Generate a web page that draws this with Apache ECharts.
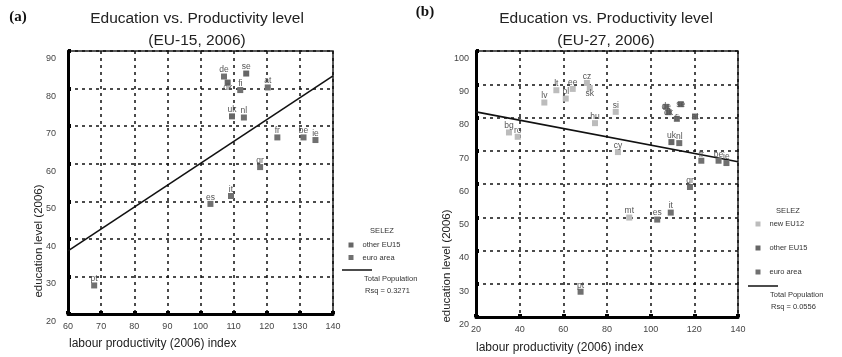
<!DOCTYPE html>
<html>
<head>
<meta charset="utf-8">
<script src="https://cdn.jsdelivr.net/npm/echarts@6/dist/echarts.min.js"></script>
<style>
  html, body { margin: 0; padding: 0; background: #fff; }
  #chart { width: 842px; height: 357px; }
</style>
</head>
<body>
<div id="chart"></div>
<script>
// EU-15 countries outside the euro area
const otherNames = ['uk', 'se', 'dk']
const otherProd = [109.5, 113.8, 108.2]
const otherEdu = [72.6, 84.0, 81.6]

// euro area countries
const euroNames = ['de', 'fi', 'at', 'nl', 'fr', 'be', 'ie', 'gr', 'it', 'es', 'pt']
const euroProd = [107.1, 112.0, 120.3, 113.1, 123.2, 131.1, 134.7, 118.0, 109.2, 103.0, 67.9]
const euroEdu = [83.2, 79.6, 80.3, 72.3, 67.0, 67.0, 66.3, 59.1, 51.4, 49.3, 27.6]

// new member states (EU12)
const newNames = ['bg', 'ro', 'lv', 'lt', 'pl', 'ee', 'cz', 'sk', 'si', 'hu', 'cy', 'mt']
const newProd = [35.1, 39.1, 51.3, 56.8, 61.1, 64.3, 70.8, 72.1, 84.0, 74.5, 85.0, 90.2]
const newEdu = [75.5, 74.2, 84.5, 88.2, 85.7, 88.6, 90.4, 88.9, 81.7, 78.3, 69.6, 49.9]

// regression lines (endpoints)
const fitA = [[60, 36.8], [140, 83.4]]
const fitB = [[20, 81.7], [140, 66.7]]
const rsqA = '0.3271'
const rsqB = '0.0556'

// axis ranges / ticks
const xTicksA = { min: 60, max: 140, interval: 10 }
const yTicksA = { min: 20, max: 90, interval: 10 }
const xTicksB = { min: 20, max: 140, interval: 20 }
const yTicksB = { min: 20, max: 100, interval: 10 }

// label placement per panel (style only)
const labelPosA = { dk: 'bottom' }
const labelPosB = { sk: 'bottom', de: 'inside', dk: 'inside', se: 'inside', fi: 'inside', at: 'inside' }

const FONT = '"Liberation Sans", Arial, sans-serif'
const COL_OTHER = '#666666'
const COL_EURO = '#707070'
const COL_NEW = '#bcbcbc'

function points(names, xs, ys, posMap) {
  return names.map((n, i) => {
    const item = { name: n, value: [xs[i], ys[i]] }
    if (posMap[n]) item.label = { position: posMap[n], distance: posMap[n] === 'bottom' ? -2 : 0 }
    return item
  })
}

function scatter(name, color, data, idx) {
  return {
    name: name,
    type: 'scatter',
    xAxisIndex: idx,
    yAxisIndex: idx,
    symbol: 'rect',
    symbolSize: 6,
    itemStyle: { color: color, opacity: 1 },
    label: {
      show: true,
      formatter: '{b}',
      position: 'top',
      distance: -1,
      fontSize: 8.5,
      fontFamily: FONT,
      color: '#555'
    },
    data: data,
    z: 3
  }
}

function fitLine(data, idx) {
  return {
    name: 'Total Population',
    type: 'line',
    xAxisIndex: idx,
    yAxisIndex: idx,
    data: data,
    symbol: 'none',
    lineStyle: { color: '#111', width: 1.6 },
    silent: true,
    z: 2
  }
}

function xAxis(idx, t) {
  return {
    type: 'value',
    gridIndex: idx,
    min: t.min, max: t.max, interval: t.interval,
    axisLine: { show: true, onZero: false, lineStyle: { color: '#000', width: 3 } },
    axisTick: { show: true, inside: true, length: 3, lineStyle: { color: '#000', width: 4 } },
    axisLabel: { fontSize: 9, fontFamily: FONT, color: '#444', margin: 8 },
    splitLine: { show: true, lineStyle: { color: '#111', width: 1.5, type: [3, 4] } }
  }
}

function yAxis(idx, t, margin) {
  return {
    type: 'value',
    gridIndex: idx,
    min: t.min, max: t.max, interval: t.interval,
    axisLine: { show: true, onZero: false, lineStyle: { color: '#000', width: 3 } },
    axisTick: { show: true, inside: true, length: 3, lineStyle: { color: '#000', width: 4 } },
    axisLabel: { fontSize: 9, fontFamily: FONT, color: '#444', margin: margin, verticalAlign: 'top', padding: [3, 0, 0, 0] },
    splitLine: { show: true, lineStyle: { color: '#111', width: 1.5, type: [3, 4] } }
  }
}

function legendBlock(x0, lineY, rsq) {
  return [
    { type: 'line', shape: { x1: x0, y1: lineY, x2: x0 + 30, y2: lineY }, style: { stroke: '#111', lineWidth: 1.5 } },
    { type: 'text', x: x0 + 22, y: lineY + 9, style: { text: 'Total Population', font: '7.5px ' + FONT, fill: '#333', textVerticalAlign: 'middle' } },
    { type: 'text', x: x0 + 23, y: lineY + 21, style: { text: 'Rsq = ' + rsq, font: '7.5px ' + FONT, fill: '#333', textVerticalAlign: 'middle' } }
  ]
}

const chart = echarts.init(document.getElementById('chart'))

const titleStyle = { fontSize: 15.5, fontWeight: 'normal', fontFamily: FONT, color: '#222', lineHeight: 22 }

const option = {
  animation: false,
  backgroundColor: '#fff',
  title: [
    { text: 'Education vs. Productivity level\n(EU-15, 2006)', left: 197, top: 8, textAlign: 'center', padding: 0, textStyle: titleStyle },
    { text: 'Education vs. Productivity level\n(EU-27, 2006)', left: 606, top: 8, textAlign: 'center', padding: 0, textStyle: titleStyle }
  ],
  grid: [
    { left: 68, top: 51, width: 265, height: 263, show: true, borderColor: '#222', borderWidth: 1.5, backgroundColor: 'transparent' },
    { left: 476, top: 51, width: 262, height: 266, show: true, borderColor: '#222', borderWidth: 1.5, backgroundColor: 'transparent' }
  ],
  xAxis: [xAxis(0, xTicksA), xAxis(1, xTicksB)],
  yAxis: [yAxis(0, yTicksA, 12), yAxis(1, yTicksB, 7)],
  legend: [
    {
      data: ['other EU15', 'euro area'],
      orient: 'vertical', left: 348.5, top: 240, padding: 0,
      itemWidth: 5, itemHeight: 5, itemGap: 2.5, icon: 'rect',
      selectedMode: false,
      textStyle: { fontSize: 7.5, fontFamily: FONT, color: '#333', lineHeight: 10, padding: [0, 0, 0, 4] }
    },
    {
      data: ['new EU12', 'other EU15', 'euro area'],
      orient: 'vertical', left: 755.5, top: 219, padding: 0,
      itemWidth: 5, itemHeight: 5, itemGap: 14, icon: 'rect',
      selectedMode: false,
      textStyle: { fontSize: 7.5, fontFamily: FONT, color: '#333', lineHeight: 10, padding: [0, 0, 0, 4] }
    }
  ],
  graphic: [
    { type: 'text', x: 18, y: 17, style: { text: '(a)', font: 'bold 15px "Liberation Serif", serif', fill: '#111', textAlign: 'center', textVerticalAlign: 'middle' } },
    { type: 'text', x: 425, y: 12, style: { text: '(b)', font: 'bold 15px "Liberation Serif", serif', fill: '#111', textAlign: 'center', textVerticalAlign: 'middle' } },
    { type: 'text', x: 69, y: 344, style: { text: 'labour productivity (2006) index', font: '12px ' + FONT, fill: '#222', textVerticalAlign: 'middle' } },
    { type: 'text', x: 476, y: 348, style: { text: 'labour productivity (2006) index', font: '12px ' + FONT, fill: '#222', textVerticalAlign: 'middle' } },
    { type: 'text', x: 39, y: 241, rotation: Math.PI / 2, style: { text: 'education level (2006)', font: '11.5px ' + FONT, fill: '#222', textAlign: 'center', textVerticalAlign: 'middle' } },
    { type: 'text', x: 447, y: 266, rotation: Math.PI / 2, style: { text: 'education level (2006)', font: '11.5px ' + FONT, fill: '#222', textAlign: 'center', textVerticalAlign: 'middle' } },
    { type: 'text', x: 382, y: 231, style: { text: 'SELEZ', font: '7.5px ' + FONT, fill: '#333', textAlign: 'center', textVerticalAlign: 'middle' } },
    { type: 'text', x: 788, y: 211, style: { text: 'SELEZ', font: '7.5px ' + FONT, fill: '#333', textAlign: 'center', textVerticalAlign: 'middle' } }
  ].concat(legendBlock(342, 270, rsqA), legendBlock(748, 286, rsqB)),
  series: [
    fitLine(fitA, 0),
    scatter('other EU15', COL_OTHER, points(otherNames, otherProd, otherEdu, labelPosA), 0),
    scatter('euro area', COL_EURO, points(euroNames, euroProd, euroEdu, labelPosA), 0),
    fitLine(fitB, 1),
    scatter('new EU12', COL_NEW, points(newNames, newProd, newEdu, labelPosB), 1),
    scatter('other EU15', COL_OTHER, points(otherNames, otherProd, otherEdu, labelPosB), 1),
    scatter('euro area', COL_EURO, points(euroNames, euroProd, euroEdu, labelPosB), 1)
  ]
}

chart.setOption(option)
window.addEventListener('resize', () => chart.resize())
</script>
</body>
</html>
